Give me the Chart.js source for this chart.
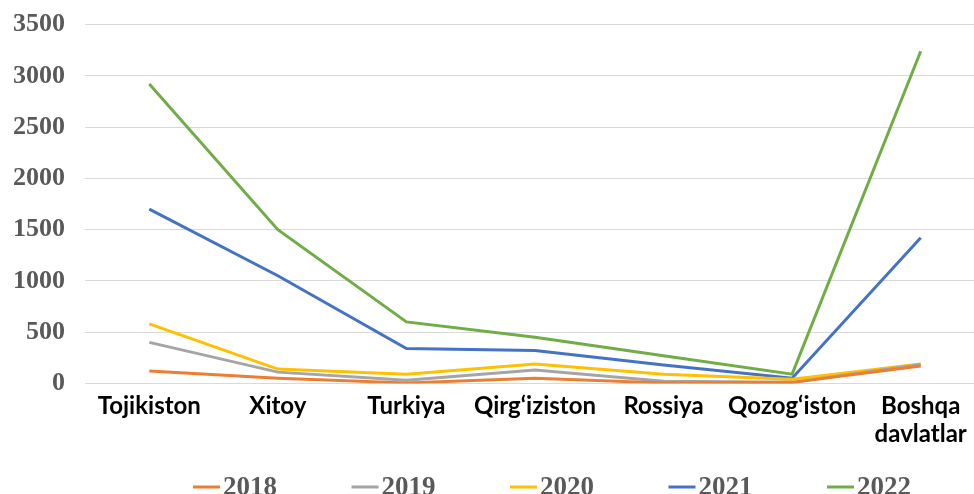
<!DOCTYPE html>
<html>
<head>
<meta charset="utf-8">
<script src="https://cdn.jsdelivr.net/npm/chart.js@4.4.0/dist/chart.umd.min.js"></script>
<style>
  html, body { margin: 0; padding: 0; background: #ffffff; overflow: hidden; }
  #wrap { width: 974px; height: 494px; overflow: hidden; position: relative; }
  canvas { position: absolute; left: 0; top: -11px; }
</style>
</head>
<body>
<div id="wrap">
  <canvas id="chart" width="1000" height="505"></canvas>
</div>
<script>
// Categories and series
const countries = ['Tojikiston', 'Xitoy', 'Turkiya', 'Qirg‘iziston', 'Rossiya', 'Qozog‘iston', ['Boshqa', 'davlatlar']];
const years = ['2018', '2019', '2020', '2021', '2022'];
const values2018 = [120, 50, 5, 50, 5, 10, 170];
const values2019 = [400, 110, 30, 130, 20, 10, 185];
const values2020 = [580, 140, 90, 190, 90, 40, 190];
const values2021 = [1700, 1050, 340, 320, 180, 50, 1420];
const values2022 = [2920, 1500, 600, 450, 270, 90, 3240];
const yTicks = [0, 500, 1000, 1500, 2000, 2500, 3000, 3500];

const colors = {
    y2018: '#ED7D31',
    y2019: '#A5A5A5',
    y2020: '#FFC000',
    y2021: '#4472C4',
    y2022: '#70AD47',
    grid: '#d9d9d9',
    axisText: '#595959'
};

const serifBold = '"Liberation Serif", "Times New Roman", serif';

function series(label, data, color) {
    return {
        label: label,
        data: data,
        borderColor: color,
        backgroundColor: color,
        borderWidth: 3,
        pointRadius: 0,
        pointHoverRadius: 0,
        tension: 0,
        fill: false
    };
}

// Legend drawn in a single row along the bottom, like the original
const bottomLegend = {
    id: 'bottomLegend',
    afterDraw(chart) {
        const c = chart.ctx;
        const startX = 193, step = 158.5, lineLen = 27, y = 498;
        c.save();
        c.font = 'bold 27px ' + serifBold;
        c.textBaseline = 'middle';
        c.textAlign = 'left';
        chart.data.datasets.forEach((ds, i) => {
            const x = startX + i * step;
            c.strokeStyle = ds.borderColor;
            c.lineWidth = 3;
            c.beginPath();
            c.moveTo(x, y);
            c.lineTo(x + lineLen, y);
            c.stroke();
            c.fillStyle = colors.axisText;
            c.fillText(ds.label, x + lineLen + 3, y + 1);
        });
        c.restore();
    }
};

const ctx = document.getElementById('chart');
new Chart(ctx, {
    type: 'line',
    data: {
        labels: countries,
        datasets: [
            series(years[0], values2018, colors.y2018),
            series(years[1], values2019, colors.y2019),
            series(years[2], values2020, colors.y2020),
            series(years[3], values2021, colors.y2021),
            series(years[4], values2022, colors.y2022)
        ]
    },
    options: {
        responsive: false,
        animation: false,
        devicePixelRatio: 1,
        layout: {
            padding: { top: 2, right: 15, left: 12, bottom: 45 }
        },
        plugins: {
            legend: { display: false },
            tooltip: { enabled: false }
        },
        scales: {
            x: {
                offset: true,
                grid: { display: false },
                border: { display: false },
                ticks: {
                    color: '#000000',
                    maxRotation: 0,
                    autoSkip: false,
                    padding: 0,
                    font: { family: 'Lato, sans-serif', size: 24, weight: 'bold', lineHeight: 1.2 }
                }
            },
            y: {
                min: 0,
                max: 3500,
                afterBuildTicks: function(axis) {
                    axis.ticks = yTicks.map(v => ({ value: v }));
                },
                afterFit: function(axis) {
                    axis.width = 73;
                },
                grid: { color: colors.grid, lineWidth: 1, drawTicks: false },
                border: { display: false },
                ticks: {
                    color: colors.axisText,
                    padding: 20,
                    callback: function(value) { return String(value); },
                    font: { family: serifBold, size: 26, weight: 'bold' }
                }
            }
        }
    },
    plugins: [bottomLegend]
});
</script>
</body>
</html>
